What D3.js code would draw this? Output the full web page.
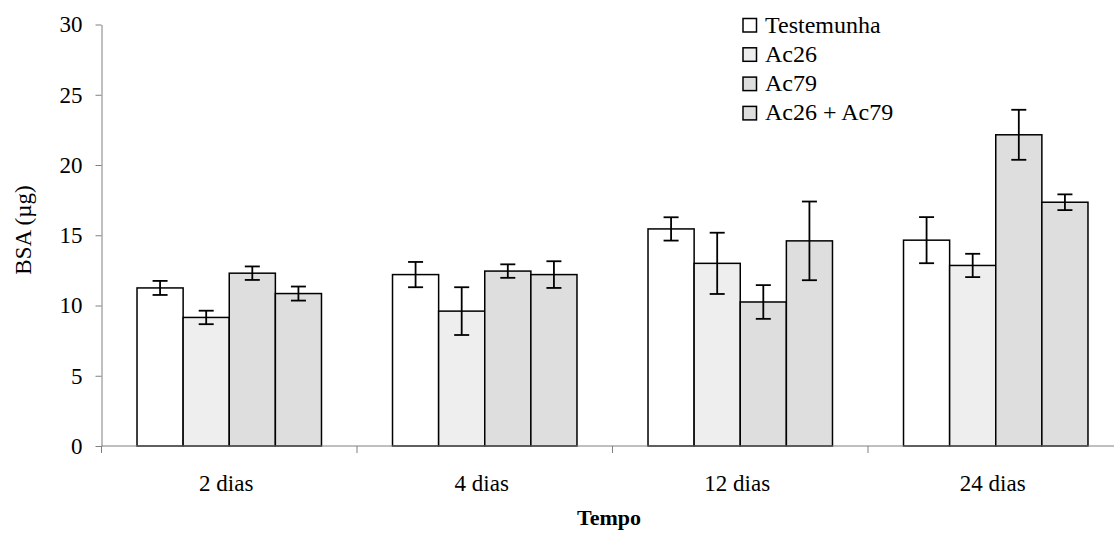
<!DOCTYPE html>
<html>
<head>
<meta charset="utf-8">
<script src="https://cdn.jsdelivr.net/npm/d3@7"></script>
<style>
  body { margin: 0; background: #fff; }
</style>
</head>
<body>
<svg id="chart" width="1114" height="536" font-family="'Liberation Serif', 'Times New Roman', Times, serif"></svg>
<script>
const categories = ["2 dias", "4 dias", "12 dias", "24 dias"];
const series = ["Testemunha", "Ac26", "Ac79", "Ac26 + Ac79"];
const colors = ["#ffffff", "#eeeeee", "#dedede", "#dedede"];
// one row per series, one value per category
const means = [
  [11.25, 12.2, 15.45, 14.65],
  [9.15, 9.6, 13.0, 12.85],
  [12.3, 12.45, 10.25, 22.15],
  [10.85, 12.2, 14.6, 17.35]
];
const errors = [
  [0.5, 0.9, 0.83, 1.64],
  [0.48, 1.7, 2.18, 0.83],
  [0.48, 0.48, 1.2, 1.78],
  [0.5, 0.95, 2.8, 0.56]
];
const yTicks = [0, 5, 10, 15, 20, 25, 30];

const svg = d3.select("#chart");
const fontSize = 23;
const serif = "'Liberation Serif', 'Times New Roman', Times, serif";

const x = d3.scaleBand()
            .domain(categories)
            .range([101.5, 1123.5]);
const bw = x.bandwidth();
const xs = d3.scaleBand()
             .domain(series)
             .range([bw * 0.139, bw * 0.861]);
const y = d3.scaleLinear()
            .domain([0, 30])
            .range([446, 24.5]);

const data = [];
series.forEach((s, i) => {
  categories.forEach((c, j) => {
    data.push({ s: s, c: c, i: i, v: means[i][j], e: errors[i][j] });
  });
});

// bars
svg.append("g")
   .selectAll("rect")
   .data(data)
   .enter()
   .append("rect")
     .attr("x", d => x(d.c) + xs(d.s))
     .attr("y", d => y(d.v))
     .attr("width", xs.bandwidth())
     .attr("height", d => y(0) - y(d.v))
     .attr("fill", d => colors[d.i])
     .attr("stroke", "#000")
     .attr("stroke-width", 1.5);

// error bars
const eg = svg.append("g")
              .attr("stroke", "#000")
              .attr("stroke-width", 1.8);
const cx = d => x(d.c) + xs(d.s) + xs.bandwidth() / 2;
eg.selectAll(".stem").data(data).enter().append("line")
  .attr("x1", cx).attr("x2", cx)
  .attr("y1", d => y(d.v + d.e)).attr("y2", d => y(d.v - d.e));
eg.selectAll(".top").data(data).enter().append("line")
  .attr("x1", d => cx(d) - 7.5).attr("x2", d => cx(d) + 7.5)
  .attr("y1", d => y(d.v + d.e)).attr("y2", d => y(d.v + d.e));
eg.selectAll(".bot").data(data).enter().append("line")
  .attr("x1", d => cx(d) - 7.5).attr("x2", d => cx(d) + 7.5)
  .attr("y1", d => y(d.v - d.e)).attr("y2", d => y(d.v - d.e));

// y axis
const yAxis = d3.axisLeft(y)
                .tickValues(yTicks)
                .tickSize(6)
                .tickSizeOuter(0)
                .tickPadding(13);
const gy = svg.append("g")
              .attr("transform", `translate(${x.range()[0]}, 0)`)
              .call(yAxis)
              .attr("font-family", serif)
              .attr("font-size", fontSize);
gy.select(".domain").attr("stroke", "#808080");
gy.selectAll(".tick line").attr("stroke", "#808080");
gy.selectAll(".tick text").attr("fill", "#000");

// x axis: line, boundary ticks, centred labels
const gx = svg.append("g");
gx.append("line")
  .attr("x1", x.range()[0]).attr("x2", x.range()[1])
  .attr("y1", y(0)).attr("y2", y(0))
  .attr("stroke", "#808080");
const bounds = categories.map(c => x(c)).concat([x.range()[1]]);
gx.selectAll(".bt").data(bounds).enter().append("line")
  .attr("x1", d => d).attr("x2", d => d)
  .attr("y1", y(0)).attr("y2", y(0) + 7)
  .attr("stroke", "#808080");
gx.selectAll(".lbl").data(categories).enter().append("text")
  .attr("x", d => x(d) + bw / 2 - 3)
  .attr("y", 491)
  .attr("text-anchor", "middle")
  .attr("font-family", serif)
  .attr("font-size", fontSize)
  .text(d => d);

// axis titles
svg.append("text")
   .attr("transform", "translate(31, 230) rotate(-90)")
   .attr("text-anchor", "middle")
   .attr("font-family", serif)
   .attr("font-size", fontSize)
   .text("BSA (µg)");
svg.append("text")
   .attr("x", 609)
   .attr("y", 525)
   .attr("text-anchor", "middle")
   .attr("font-family", serif)
   .attr("font-size", 22)
   .attr("font-weight", "bold")
   .text("Tempo");

// legend
const lg = svg.append("g").attr("transform", "translate(743, 18.5)");
const rows = lg.selectAll("g").data(series).enter().append("g")
               .attr("transform", (d, i) => `translate(0, ${i * 29.3})`);
rows.append("rect")
    .attr("width", 13.5).attr("height", 13.5)
    .attr("fill", (d, i) => colors[i])
    .attr("stroke", "#000")
    .attr("stroke-width", 1.5);
rows.append("text")
    .attr("x", 22)
    .attr("y", 14)
    .attr("font-family", serif)
    .attr("font-size", 24)
    .text(d => d);
</script>
</body>
</html>
